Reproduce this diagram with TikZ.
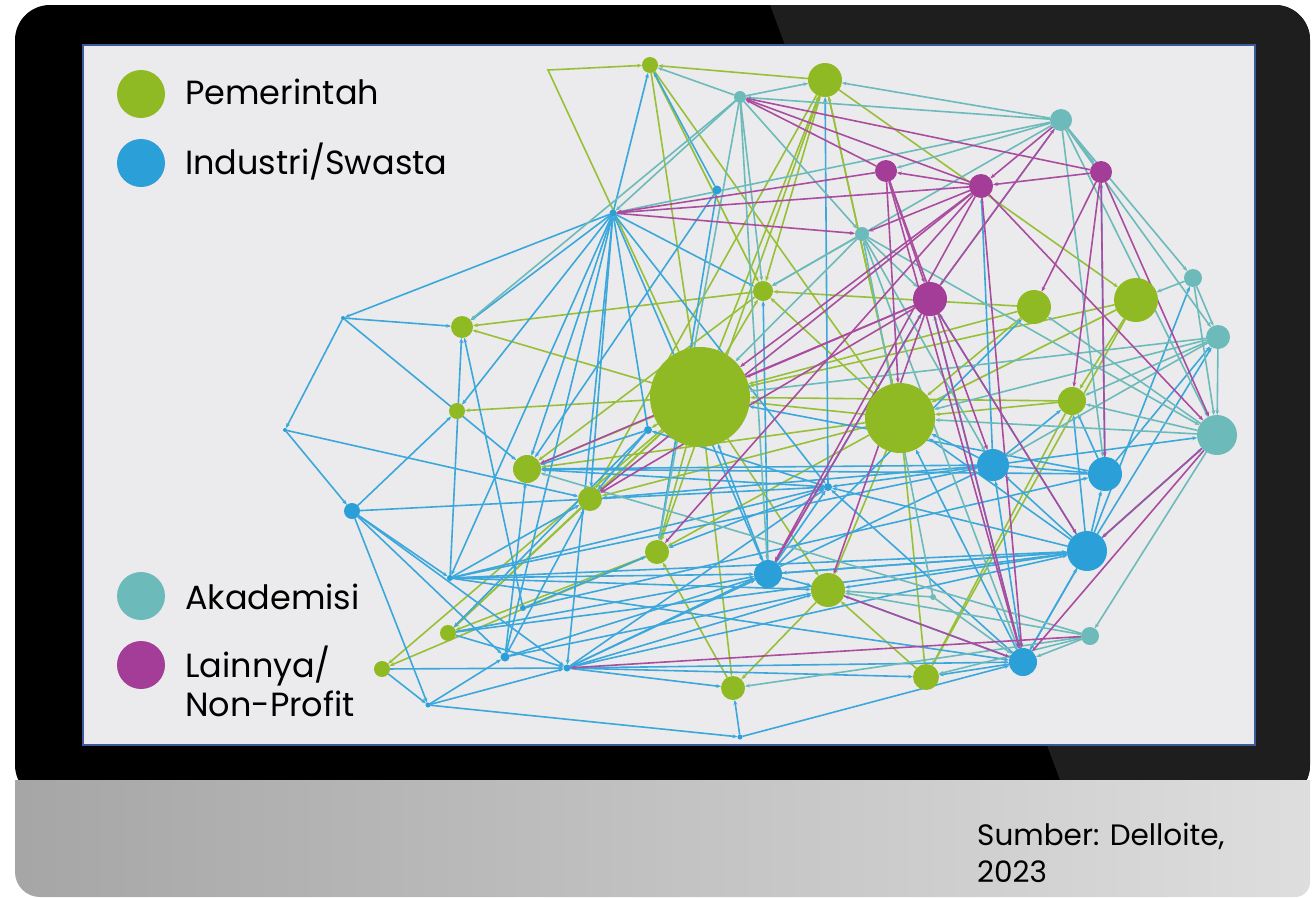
\documentclass[tikz,border=0pt]{standalone}
\usepackage{fontspec}
\setmainfont{Poppins}
\usetikzlibrary{arrows.meta}
\definecolor{G}{HTML}{8FBA24}
\definecolor{B}{HTML}{2A9FD8}
\definecolor{T}{HTML}{6CBAB9}
\definecolor{P}{HTML}{A33D98}
\definecolor{panel}{HTML}{EBEBED}
\definecolor{pborder}{HTML}{3A5A9A}
\definecolor{darkside}{HTML}{1E1E1E}
\pgfdeclarelayer{back}
\pgfdeclarelayer{edges}
\pgfsetlayers{back,edges,main}
\tikzset{
  nd/.style={circle,inner sep=0pt,outer sep=0pt,draw=none},
  gnode/.style={nd,fill=G,minimum size=#1},
  bnode/.style={nd,fill=B,minimum size=#1},
  tnode/.style={nd,fill=T,minimum size=#1},
  pnode/.style={nd,fill=P,minimum size=#1},
  edg/.style={line width=1.6pt,-{Stealth[length=5pt,width=3.8pt]}},
  gedge/.style={edg,draw=G!92!white},
  bedge/.style={edg,draw=B!92!white},
  tedge/.style={edg,draw=T},
  pedge/.style={edg,draw=P!92!white},
  legtxt/.style={anchor=base west,inner sep=0pt,font=\fontsize{33.5}{40}\selectfont},
  srctxt/.style={anchor=base west,inner sep=0pt,font=\fontsize{29.5}{35}\selectfont},
}
\begin{document}
\begin{tikzpicture}[x=1pt,y=-1pt]
\useasboundingbox (0,0) rectangle (1313,897);
\begin{pgfonlayer}{back}
\fill[white] (0,0) rectangle (1313,897);
\fill[black,rounded corners=35pt] (15,5) rectangle (1310,800);
\begin{scope}
\clip[rounded corners=35pt] (15,5) rectangle (1310,800);
\fill[darkside] (770,5) -- (1310,5) -- (1310,780) -- (1060,780) -- cycle;
\end{scope}
\shade[left color=black!35!white, right color=black!13!white]
  (15,780) -- (15,872) arc[start angle=180,end angle=270,radius=25pt]
  -- (1295,897) arc[start angle=270,end angle=360,radius=15pt] -- (1310,780) -- cycle;
\fill[panel] (83,45) rectangle (1255,745);
\draw[pborder,line width=1.6pt] (83,45) rectangle (1255,745);
\end{pgfonlayer}

% legend
\node[gnode=48pt] (lg1) at (141,94) {};
\node[bnode=48pt] (lg2) at (141,163) {};
\node[tnode=48pt] (lg3) at (141,596) {};
\node[pnode=48pt] (lg4) at (141,665) {};
\node[legtxt] (lt1) at (185,104) {Pemerintah};
\node[legtxt] (lt2) at (185,174) {Industri/Swasta};
\node[legtxt] (lt3) at (185,609) {Akademisi};
\node[legtxt] (lt4) at (185,677) {Lainnya/};
\node[legtxt] (lt5) at (185,716) {Non-Profit};
\node[srctxt] (src1) at (977,845) {Sumber: Delloite,};
\node[srctxt] (src2) at (977,882) {2023};

% green nodes
\node[gnode=100pt] (gA) at (700,397) {};
\node[gnode=70pt] (gB) at (900,418) {};
\node[gnode=34pt] (gC) at (825,80) {};
\node[gnode=16pt] (gD) at (650,65) {};
\node[gnode=20pt] (gE) at (763,291) {};
\node[gnode=22pt] (gF) at (462,327) {};
\node[gnode=16pt] (gG) at (457,411) {};
\node[gnode=28pt] (gH) at (527,469) {};
\node[gnode=24pt] (gI) at (590,499) {};
\node[gnode=24pt] (gJ) at (657,552) {};
\node[gnode=34pt] (gK) at (828,590) {};
\node[gnode=24pt] (gL) at (733,688) {};
\node[gnode=26pt] (gM) at (926,677) {};
\node[gnode=16pt] (gN) at (448,633) {};
\node[gnode=16pt] (gO) at (382,669) {};
\node[gnode=34pt] (gP) at (1034,307) {};
\node[gnode=44pt] (gQ) at (1136,300) {};
\node[gnode=28pt] (gR) at (1072,401) {};
% blue nodes
\node[bnode=32pt] (bA) at (993,465) {};
\node[bnode=34pt] (bB) at (1105,474) {};
\node[bnode=40pt] (bC) at (1087,551) {};
\node[bnode=28pt] (bD) at (768,574) {};
\node[bnode=28pt] (bE) at (1023,662) {};
\node[bnode=16pt] (bF) at (352,511) {};
\node[bnode=7pt] (b1) at (613,213) {};
\node[bnode=9pt] (b2) at (717,190) {};
\node[bnode=8pt] (b3) at (648,430) {};
\node[bnode=8pt] (b4) at (828,487) {};
\node[bnode=9pt] (b5) at (505,657) {};
\node[bnode=7pt] (b6) at (567,668) {};
\node[bnode=5pt] (b7) at (428,705) {};
\node[bnode=5pt] (b8) at (740,737) {};
\node[bnode=4pt] (b9) at (343,318) {};
\node[bnode=4pt] (b10) at (285,430) {};
\node[bnode=6pt] (b11) at (450,578) {};
\node[bnode=6pt] (b12) at (523,608) {};
% teal nodes
\node[tnode=22pt] (tA) at (1061,120) {};
\node[tnode=18pt] (tB) at (1193,278) {};
\node[tnode=24pt] (tC) at (1218,337) {};
\node[tnode=40pt] (tD) at (1217,435) {};
\node[tnode=18pt] (tE) at (1090,636) {};
\node[tnode=12pt] (tF) at (740,97) {};
\node[tnode=14pt] (tG) at (862,234) {};
\node[tnode=6pt] (tH) at (933,597) {};
% purple nodes
\node[pnode=22pt] (pA) at (886,171) {};
\node[pnode=24pt] (pB) at (981,186) {};
\node[pnode=22pt] (pC) at (1101,172) {};
\node[pnode=34pt] (pD) at (930,299) {};
\coordinate (c0) at (548,70);

\begin{pgfonlayer}{edges}
% green edges
\foreach \s/\t in {gA/gF,gA/gG,gA/gH,gA/gI,gA/gJ,gA/gN,gA/gO,gA/gC,gA/gE,gA/gK,gA/gL,gA/b3,
  gB/gE,gB/gA,gB/gJ,gB/gI,gB/gM,gB/gK,gB/gC,gB/gH,
  gC/gD,gC/gE,gC/gJ,gC/gI,gC/gQ,gC/gB,gD/gE,gD/gA,
  gQ/gA,gQ/gB,gQ/gR,gQ/gM,gP/gA,gP/gB,gP/gE,gR/gB,gR/gA,gR/gM,
  gE/gF,gE/gH,gJ/gN,gJ/gO,gI/gN,gK/gL,gM/gK,gD/gB,gL/gJ}
  \draw[gedge] (\s) -- (\t);
\draw[gedge] (gA) -- (c0) -- (gD);
% blue edges
\foreach \s/\t in {b1/b9,b9/b10,b10/bF,b9/gF,b9/gH,b10/gI,bF/gG,bF/b7,bF/b11,bF/b6,bF/b5,bF/b4,
  b7/b6,b7/b5,b7/b8,gO/b6,gO/b7,
  b1/gD,b1/gF,b1/gG,b1/gH,b1/b11,b1/b5,b1/b6,b1/gI,b1/bD,b1/gE,b1/b4,
  b2/gJ,b2/gH,b2/gD,
  b11/bD,b11/bE,b11/bC,b11/b4,b11/gK,b11/gF,b11/gI,b11/bA,
  b6/bD,b6/bE,b6/bC,b6/gM,b6/b4,b6/bA,b6/gL,b6/gK,
  b5/bD,b5/gK,b5/gI,b5/gH,gN/b6,gN/bC,gN/bD,b12/bB,b12/gJ,b12/gF,
  b8/gL,b8/bE,
  bA/gR,bA/tD,bA/b4,bA/gB,bA/bB,bA/pB,bA/gH,bA/gI,
  bB/gR,bB/tC,bB/gA,bB/pC,bB/gH,
  bC/bA,bC/bB,bC/tB,bC/tC,bC/tD,bC/gR,bC/gB,bC/b4,bC/bD,bC/bE,bC/pD,bC/gK,
  bD/b4,bD/gK,bD/gA,bD/pD,bD/gE,bD/bC,bD/gP,
  bE/bC,bE/gK,bE/gB,bE/b4,bE/pD,bE/gM,bE/bA,
  b4/gC,b4/b3,b4/gH,b4/gJ,b3/gH,b3/gN,b3/gI,b3/b1}
  \draw[bedge] (\s) -- (\t);
% teal edges
\foreach \s/\t in {tA/gC,tA/tF,tA/b1,tA/pA,tA/gE,tA/tB,tA/tC,tA/tD,tA/bB,tA/pD,tA/pC,
  tF/gD,tF/gC,tF/b1,tF/gE,tF/tG,tF/gF,tF/gJ,tF/bD,
  tG/gA,tG/bE,tG/gE,tG/tD,tG/bA,tG/pD,
  tB/tC,tB/tD,tB/gQ,tC/tD,tC/gA,tC/bA,tC/gR,tC/gB,
  tD/gP,tD/gB,tD/bC,tD/tE,tD/gR,
  tE/gK,tE/bE,tE/gM,tE/gL,tE/gH,tH/tG,tH/gK,tH/bE}
  \draw[tedge] (\s) -- (\t);
% purple edges
\foreach \s/\t in {pA/b1,pB/b1,b1/tG,pA/gB,pA/bA,pA/tF,pA/pD,pA/bE,
  pB/tF,pB/gA,pB/bD,pB/pA,pB/tD,pB/gI,pB/bE,pB/tG,pB/gJ,
  pC/tF,pC/bB,pC/tD,pC/pB,pC/gR,pC/gP,
  pD/gA,pD/gI,pD/bC,pD/bE,pD/gK,pD/tA,pD/gH,pD/bD,
  tE/b6,gK/bE,tD/bC,tD/bE,tA/pB}
  \draw[pedge] (\s) -- (\t);
\end{pgfonlayer}
\end{tikzpicture}
\end{document}
